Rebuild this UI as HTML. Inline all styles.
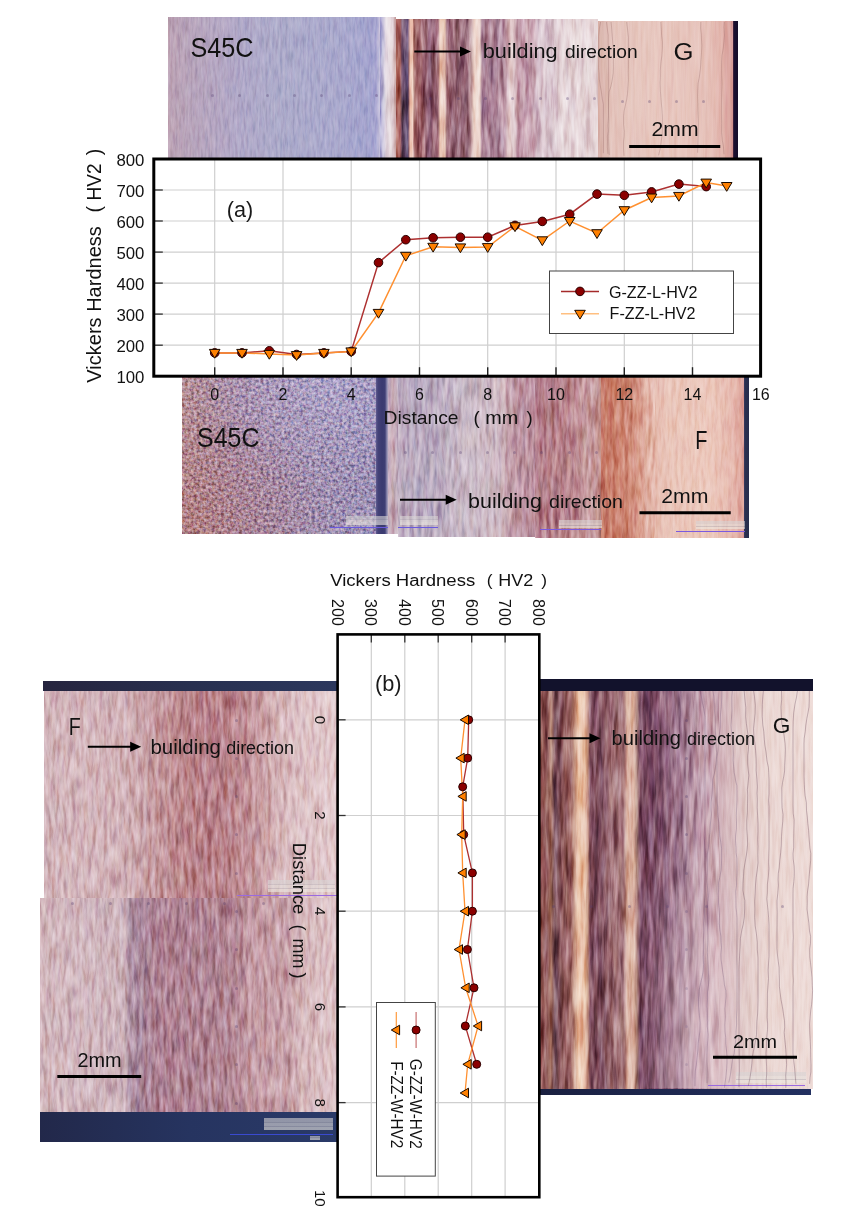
<!DOCTYPE html>
<html><head><meta charset="utf-8"><style>
html,body{margin:0;padding:0;background:#fff;width:848px;height:1222px;overflow:hidden;}
body{position:relative;font-family:"Liberation Sans", sans-serif;}
.m{position:absolute;}
svg{position:absolute;left:0;top:0;}
#main{will-change:transform;}
svg text{font-family:"Liberation Sans", sans-serif;}
</style></head><body>
<svg width="0" height="0" style="position:absolute;left:0;top:0"><defs><filter id="fA1" x="0" y="0" width="100%" height="100%" color-interpolation-filters="sRGB"><feTurbulence type="fractalNoise" baseFrequency="0.4 0.06" numOctaves="3" seed="3" result="t"/><feColorMatrix in="t" type="matrix" values="0.15 0.5 0 0 0.175  0 0.5 0 0 0.250  0 0.5 0.15 0 0.175  0 0 0 0 1" result="n"/><feBlend in="n" in2="SourceGraphic" mode="soft-light" result="b"/><feComposite in="b" in2="SourceGraphic" operator="in"/></filter><filter id="fA2" x="0" y="0" width="100%" height="100%" color-interpolation-filters="sRGB"><feTurbulence type="fractalNoise" baseFrequency="0.2 0.03" numOctaves="3" seed="7" result="t"/><feColorMatrix in="t" type="matrix" values="0.2 1.6 0 0 -0.400  0 1.6 0 0 -0.300  0 1.6 0.2 0 -0.400  0 0 0 0 1" result="n"/><feBlend in="n" in2="SourceGraphic" mode="soft-light" result="b"/><feComposite in="b" in2="SourceGraphic" operator="in"/></filter><filter id="fA3" x="0" y="0" width="100%" height="100%" color-interpolation-filters="sRGB"><feTurbulence type="fractalNoise" baseFrequency="0.3 0.02" numOctaves="3" seed="11" result="t"/><feColorMatrix in="t" type="matrix" values="0.1 0.4 0 0 0.250  0 0.4 0 0 0.300  0 0.4 0.1 0 0.250  0 0 0 0 1" result="n"/><feBlend in="n" in2="SourceGraphic" mode="soft-light" result="b"/><feComposite in="b" in2="SourceGraphic" operator="in"/></filter><filter id="fB1" x="0" y="0" width="100%" height="100%" color-interpolation-filters="sRGB"><feTurbulence type="fractalNoise" baseFrequency="0.33" numOctaves="3" seed="5" result="t"/><feColorMatrix in="t" type="matrix" values="0.7 1.6 0 0 -0.650  0 1.6 0 0 -0.300  0 1.6 0.7 0 -0.650  0 0 0 0 1" result="n"/><feBlend in="n" in2="SourceGraphic" mode="soft-light" result="b"/><feComposite in="b" in2="SourceGraphic" operator="in"/></filter><filter id="fB2" x="0" y="0" width="100%" height="100%" color-interpolation-filters="sRGB"><feTurbulence type="fractalNoise" baseFrequency="0.25 0.04" numOctaves="3" seed="9" result="t"/><feColorMatrix in="t" type="matrix" values="0.3 1.2 0 0 -0.250  0 1.2 0 0 -0.100  0 1.2 0.3 0 -0.250  0 0 0 0 1" result="n"/><feBlend in="n" in2="SourceGraphic" mode="soft-light" result="b"/><feComposite in="b" in2="SourceGraphic" operator="in"/></filter><filter id="fB4" x="0" y="0" width="100%" height="100%" color-interpolation-filters="sRGB"><feTurbulence type="fractalNoise" baseFrequency="0.25 0.04" numOctaves="3" seed="13" result="t"/><feColorMatrix in="t" type="matrix" values="0.2 1.1 0 0 -0.150  0 1.1 0 0 -0.050  0 1.1 0.2 0 -0.150  0 0 0 0 1" result="n"/><feBlend in="n" in2="SourceGraphic" mode="soft-light" result="b"/><feComposite in="b" in2="SourceGraphic" operator="in"/></filter><filter id="fB5" x="0" y="0" width="100%" height="100%" color-interpolation-filters="sRGB"><feTurbulence type="fractalNoise" baseFrequency="0.3 0.05" numOctaves="3" seed="29" result="t"/><feColorMatrix in="t" type="matrix" values="0.15 0.6 0 0 0.125  0 0.6 0 0 0.200  0 0.6 0.15 0 0.125  0 0 0 0 1" result="n"/><feBlend in="n" in2="SourceGraphic" mode="soft-light" result="b"/><feComposite in="b" in2="SourceGraphic" operator="in"/></filter><filter id="fL" x="0" y="0" width="100%" height="100%" color-interpolation-filters="sRGB"><feTurbulence type="fractalNoise" baseFrequency="0.25 0.045" numOctaves="3" seed="17" result="t"/><feColorMatrix in="t" type="matrix" values="0.3 1.2 0 0 -0.250  0 1.2 0 0 -0.100  0 1.2 0.3 0 -0.250  0 0 0 0 1" result="n"/><feBlend in="n" in2="SourceGraphic" mode="soft-light" result="b"/><feComposite in="b" in2="SourceGraphic" operator="in"/></filter><filter id="fR" x="0" y="0" width="100%" height="100%" color-interpolation-filters="sRGB"><feTurbulence type="fractalNoise" baseFrequency="0.2 0.025" numOctaves="3" seed="19" result="t"/><feColorMatrix in="t" type="matrix" values="0.2 1.5 0 0 -0.350  0 1.5 0 0 -0.250  0 1.5 0.2 0 -0.350  0 0 0 0 1" result="n"/><feBlend in="n" in2="SourceGraphic" mode="soft-light" result="b"/><feComposite in="b" in2="SourceGraphic" operator="in"/></filter><filter id="fR2" x="0" y="0" width="100%" height="100%" color-interpolation-filters="sRGB"><feTurbulence type="fractalNoise" baseFrequency="0.3 0.03" numOctaves="3" seed="23" result="t"/><feColorMatrix in="t" type="matrix" values="0.1 0.6 0 0 0.150  0 0.6 0 0 0.200  0 0.6 0.1 0 0.150  0 0 0 0 1" result="n"/><feBlend in="n" in2="SourceGraphic" mode="soft-light" result="b"/><feComposite in="b" in2="SourceGraphic" operator="in"/></filter></defs></svg>
<div class="m" style="left:168px;top:17px;width:228px;height:141px;background:linear-gradient(90deg,#bca2b4 0px,#b8a4ba 18px,#b4a6c2 50px,#b0a8c8 72px,#adabca 110px,#aaa9cd 170px,#a4a4ce 200px,#a6a4d0 208px,#cec8de 212px,#e4dce4 216px,#dcd0dc 220px,#d0b8c0 223px,#c8a8b0 226px,#c09090 228px);filter:url(#fA1);"></div>
<div class="m" style="left:380px;top:17px;width:16px;height:141px;background:linear-gradient(90deg,#a6a4d0 0px,#c8c4dc 3px,#e6dce4 6px,#e8dce0 10px,#dcc8cc 13px,#c8a4a4 16px);filter:url(#fA2);"></div>
<div class="m" style="left:396px;top:19px;width:202px;height:139px;background:linear-gradient(90deg,#b06c60 0px,#a45c56 4px,#70506c 6px,#604c70 12px,#a06868 13px,#ecc4b4 14px,#eec8b8 16.5px,#a46a68 18px,#9c6068 26px,#8c5e76 34px,#9a6470 42px,#eccab8 44px,#e6c4b6 49px,#966270 51px,#926272 62px,#986a7a 72px,#eed6cc 78px,#e8d0c8 84px,#a47a90 86px,#ac8498 100px,#bc96a6 109px,#e4cccc 114px,#dcc4c8 118px,#c49cac 122px,#c8a4b2 137px,#d6c0ca 142px,#dccad2 158px,#e4d4d8 164px,#e6d6d8 202px);filter:url(#fA2);"></div>
<div class="m" style="left:598px;top:21px;width:135px;height:137px;background:linear-gradient(90deg,#d8b0a8 0px,#dcb8b0 4px,#e4c4bc 14px,#e8c8c0 60px,#e6c2ba 110px,#e2b4ac 124px,#d69c98 135px);filter:url(#fA3);"></div>
<div class="m" style="left:733px;top:21px;width:5px;height:137px;background:linear-gradient(90deg,#4a2840 0px,#1a1030 1.5px,#140c28 5px);"></div>
<div class="m" style="left:182px;top:377px;width:195px;height:156.5px;background:radial-gradient(ellipse 75% 85% at 0% 100%, rgba(178,118,118,0.6), rgba(178,118,118,0) 100%),radial-gradient(ellipse 70% 70% at 75% 0%, rgba(184,178,216,0.6), rgba(184,178,216,0) 100%),linear-gradient(90deg,#b89098 0px,#b08c9a 20px,#a88ca8 60px,#a490b0 120px,#9e92b8 195px);filter:url(#fB1);"></div>
<div class="m" style="left:376px;top:377px;width:12px;height:157px;background:linear-gradient(90deg,#605c90 0px,#444278 2px,#3a3a70 6px,#3e3e74 9px,#7a76a0 10.5px,#b0a8c0 12px);"></div>
<div class="m" style="left:388px;top:377px;width:10px;height:156.5px;background:linear-gradient(90deg,#c4acc0 0px,#ccb0b8 5px,#c0aec0 10px);filter:url(#fB2);"></div>
<div class="m" style="left:398px;top:377px;width:137px;height:159.5px;background:linear-gradient(90deg,#c0aec0 0px,#b8aac0 20px,#bcacc0 42px,#c6b6c4 60px,#ccbcc8 72px,#ceb8c2 102px,#c8a8b2 108px,#c09aa6 114px,#bc90a0 137px);filter:url(#fB2);"></div>
<div class="m" style="left:535px;top:377px;width:66px;height:161px;background:linear-gradient(90deg,#b88490 0px,#b47e88 20px,#bc8890 40px,#c4989c 50px,#c69a9c 62px,#b88078 66px);filter:url(#fB2);"></div>
<div class="m" style="left:601px;top:377px;width:54px;height:161px;background:linear-gradient(90deg,#c47664 0px,#cc826e 15px,#d08c7a 30px,#d89c8c 38px,#e0b0a2 46px,#e6bcb0 54px);filter:url(#fB4);"></div>
<div class="m" style="left:655px;top:377px;width:89px;height:161px;background:linear-gradient(90deg,#e6bcb0 0px,#eac6ba 15px,#ecc8bc 55px,#e6b8ae 78px,#dca098 89px);filter:url(#fB5);"></div>
<div class="m" style="left:744px;top:377px;width:5px;height:161px;background:linear-gradient(90deg,#3a3a60 0px,#2a3050 1.5px,#262c4c 5px);"></div>
<div class="m" style="left:44px;top:690px;width:294px;height:208px;background:linear-gradient(90deg,#d2b4ba 0px,#d4b6bc 40px,#d2b2b8 80px,#caa4aa 100px,#c4969c 118px,#bc868c 140px,#b8808a 165px,#ba848c 185px,#c08e96 200px,#c89ca2 215px,#d4b2b6 232px,#dcc0c4 250px,#e2cacd 294px);filter:url(#fL);"></div>
<div class="m" style="left:40px;top:898px;width:298px;height:214px;background:linear-gradient(90deg,#d2b6bc 0px,#d2b8c0 40px,#ceb4bc 84px,#ae90a4 90px,#aa889c 100px,#b08294 120px,#b08494 170px,#b48896 196px,#c49aa4 210px,#c8a2aa 250px,#d6b8bc 262px,#dec4c8 298px);filter:url(#fL);"></div>
<div class="m" style="left:43px;top:681px;width:295px;height:9.5px;background:linear-gradient(90deg,#26243e 0px,#283050 150px,#2c385e 295px);"></div>
<div class="m" style="left:40px;top:1112px;width:298px;height:30px;background:linear-gradient(90deg,#22284a 0px,#263460 150px,#2a3a68 298px);"></div>
<div class="m" style="left:539px;top:690px;width:180px;height:399px;background:linear-gradient(90deg,#9a5a58 0px,#8a5252 8px,#b08070 12px,#6c4250 16px,#905a5c 24px,#9c6462 32px,#d0a490 36px,#ecc6ac 39px,#e8c0a8 46px,#c49484 49px,#7a4858 51px,#7c4c5c 62px,#9c6c74 70px,#a47478 85px,#dab2a2 88px,#dcb4a4 95px,#b08880 98px,#7a4a62 101px,#7a4a64 113px,#885a74 125px,#9a7088 135px,#a07890 142px,#b08c9e 150px,#c09cac 160px,#caa8b2 175px,#d0b0b8 180px);filter:url(#fR);"></div>
<div class="m" style="left:719px;top:690px;width:94px;height:399px;background:linear-gradient(90deg,#d0b0b8 0px,#d8bcc0 10px,#e2ccca 25px,#ead6d2 45px,#eedcd8 94px);filter:url(#fR2);"></div>
<div class="m" style="left:539px;top:679px;width:274px;height:11.5px;background:#12122c;"></div>
<div class="m" style="left:539px;top:1088.5px;width:272px;height:6.5px;background:linear-gradient(90deg,#1a2040 0px,#1e2850 136px,#223060 272px);"></div>
<div class="m" style="left:211.0px;top:93.5px;width:3.0px;height:3.0px;border-radius:50%;background:rgba(80,60,110,0.32);"></div>
<div class="m" style="left:238.3px;top:93.5px;width:3.0px;height:3.0px;border-radius:50%;background:rgba(80,60,110,0.32);"></div>
<div class="m" style="left:265.6px;top:93.5px;width:3.0px;height:3.0px;border-radius:50%;background:rgba(80,60,110,0.32);"></div>
<div class="m" style="left:292.9px;top:93.5px;width:3.0px;height:3.0px;border-radius:50%;background:rgba(80,60,110,0.32);"></div>
<div class="m" style="left:320.2px;top:93.5px;width:3.0px;height:3.0px;border-radius:50%;background:rgba(80,60,110,0.32);"></div>
<div class="m" style="left:347.5px;top:93.5px;width:3.0px;height:3.0px;border-radius:50%;background:rgba(80,60,110,0.32);"></div>
<div class="m" style="left:374.8px;top:93.5px;width:3.0px;height:3.0px;border-radius:50%;background:rgba(80,60,110,0.32);"></div>
<div class="m" style="left:402.1px;top:96.5px;width:3.0px;height:3.0px;border-radius:50%;background:rgba(80,60,110,0.32);"></div>
<div class="m" style="left:429.4px;top:96.5px;width:3.0px;height:3.0px;border-radius:50%;background:rgba(80,60,110,0.32);"></div>
<div class="m" style="left:456.70000000000005px;top:96.5px;width:3.0px;height:3.0px;border-radius:50%;background:rgba(80,60,110,0.32);"></div>
<div class="m" style="left:484.0px;top:96.5px;width:3.0px;height:3.0px;border-radius:50%;background:rgba(80,60,110,0.32);"></div>
<div class="m" style="left:511.29999999999995px;top:96.5px;width:3.0px;height:3.0px;border-radius:50%;background:rgba(80,60,110,0.32);"></div>
<div class="m" style="left:538.6px;top:96.5px;width:3.0px;height:3.0px;border-radius:50%;background:rgba(80,60,110,0.32);"></div>
<div class="m" style="left:565.9000000000001px;top:96.5px;width:3.0px;height:3.0px;border-radius:50%;background:rgba(80,60,110,0.32);"></div>
<div class="m" style="left:593.2px;top:96.5px;width:3.0px;height:3.0px;border-radius:50%;background:rgba(80,60,110,0.32);"></div>
<div class="m" style="left:620.5px;top:100.0px;width:3.0px;height:3.0px;border-radius:50%;background:rgba(80,60,110,0.32);"></div>
<div class="m" style="left:647.8px;top:100.0px;width:3.0px;height:3.0px;border-radius:50%;background:rgba(80,60,110,0.32);"></div>
<div class="m" style="left:675.1px;top:100.0px;width:3.0px;height:3.0px;border-radius:50%;background:rgba(80,60,110,0.32);"></div>
<div class="m" style="left:702.4000000000001px;top:100.0px;width:3.0px;height:3.0px;border-radius:50%;background:rgba(80,60,110,0.32);"></div>
<div class="m" style="left:403.9px;top:450.5px;width:3.0px;height:3.0px;border-radius:50%;background:rgba(80,60,110,0.32);"></div>
<div class="m" style="left:431.2px;top:450.5px;width:3.0px;height:3.0px;border-radius:50%;background:rgba(80,60,110,0.32);"></div>
<div class="m" style="left:458.5px;top:450.5px;width:3.0px;height:3.0px;border-radius:50%;background:rgba(80,60,110,0.32);"></div>
<div class="m" style="left:485.79999999999995px;top:450.5px;width:3.0px;height:3.0px;border-radius:50%;background:rgba(80,60,110,0.32);"></div>
<div class="m" style="left:513.1px;top:450.5px;width:3.0px;height:3.0px;border-radius:50%;background:rgba(80,60,110,0.32);"></div>
<div class="m" style="left:540.4px;top:450.5px;width:3.0px;height:3.0px;border-radius:50%;background:rgba(80,60,110,0.32);"></div>
<div class="m" style="left:567.7px;top:450.5px;width:3.0px;height:3.0px;border-radius:50%;background:rgba(80,60,110,0.32);"></div>
<div class="m" style="left:595.0px;top:450.5px;width:3.0px;height:3.0px;border-radius:50%;background:rgba(80,60,110,0.32);"></div>
<div class="m" style="left:234.5px;top:718.5px;width:3.0px;height:3.0px;border-radius:50%;background:rgba(80,60,110,0.32);"></div>
<div class="m" style="left:234.5px;top:756.8px;width:3.0px;height:3.0px;border-radius:50%;background:rgba(80,60,110,0.32);"></div>
<div class="m" style="left:234.5px;top:795.1px;width:3.0px;height:3.0px;border-radius:50%;background:rgba(80,60,110,0.32);"></div>
<div class="m" style="left:234.5px;top:833.4px;width:3.0px;height:3.0px;border-radius:50%;background:rgba(80,60,110,0.32);"></div>
<div class="m" style="left:234.5px;top:871.7px;width:3.0px;height:3.0px;border-radius:50%;background:rgba(80,60,110,0.32);"></div>
<div class="m" style="left:234.5px;top:910.0px;width:3.0px;height:3.0px;border-radius:50%;background:rgba(80,60,110,0.32);"></div>
<div class="m" style="left:234.5px;top:948.3px;width:3.0px;height:3.0px;border-radius:50%;background:rgba(80,60,110,0.32);"></div>
<div class="m" style="left:234.5px;top:986.5999999999999px;width:3.0px;height:3.0px;border-radius:50%;background:rgba(80,60,110,0.32);"></div>
<div class="m" style="left:234.5px;top:1024.9px;width:3.0px;height:3.0px;border-radius:50%;background:rgba(80,60,110,0.32);"></div>
<div class="m" style="left:234.5px;top:1063.2px;width:3.0px;height:3.0px;border-radius:50%;background:rgba(80,60,110,0.32);"></div>
<div class="m" style="left:234.5px;top:1101.5px;width:3.0px;height:3.0px;border-radius:50%;background:rgba(80,60,110,0.32);"></div>
<div class="m" style="left:685.0px;top:718.5px;width:3.0px;height:3.0px;border-radius:50%;background:rgba(80,60,110,0.32);"></div>
<div class="m" style="left:685.0px;top:756.8px;width:3.0px;height:3.0px;border-radius:50%;background:rgba(80,60,110,0.32);"></div>
<div class="m" style="left:685.0px;top:795.1px;width:3.0px;height:3.0px;border-radius:50%;background:rgba(80,60,110,0.32);"></div>
<div class="m" style="left:685.0px;top:833.4px;width:3.0px;height:3.0px;border-radius:50%;background:rgba(80,60,110,0.32);"></div>
<div class="m" style="left:685.0px;top:871.7px;width:3.0px;height:3.0px;border-radius:50%;background:rgba(80,60,110,0.32);"></div>
<div class="m" style="left:685.0px;top:910.0px;width:3.0px;height:3.0px;border-radius:50%;background:rgba(80,60,110,0.32);"></div>
<div class="m" style="left:685.0px;top:948.3px;width:3.0px;height:3.0px;border-radius:50%;background:rgba(80,60,110,0.32);"></div>
<div class="m" style="left:685.0px;top:986.5999999999999px;width:3.0px;height:3.0px;border-radius:50%;background:rgba(80,60,110,0.32);"></div>
<div class="m" style="left:685.0px;top:1024.9px;width:3.0px;height:3.0px;border-radius:50%;background:rgba(80,60,110,0.32);"></div>
<div class="m" style="left:685.0px;top:1063.2px;width:3.0px;height:3.0px;border-radius:50%;background:rgba(80,60,110,0.32);"></div>
<div class="m" style="left:70.5px;top:902.0px;width:3.0px;height:3.0px;border-radius:50%;background:rgba(80,60,110,0.32);"></div>
<div class="m" style="left:108.72px;top:902.0px;width:3.0px;height:3.0px;border-radius:50%;background:rgba(80,60,110,0.32);"></div>
<div class="m" style="left:146.94px;top:902.0px;width:3.0px;height:3.0px;border-radius:50%;background:rgba(80,60,110,0.32);"></div>
<div class="m" style="left:185.16px;top:902.0px;width:3.0px;height:3.0px;border-radius:50%;background:rgba(80,60,110,0.32);"></div>
<div class="m" style="left:223.38px;top:902.0px;width:3.0px;height:3.0px;border-radius:50%;background:rgba(80,60,110,0.32);"></div>
<div class="m" style="left:261.6px;top:902.0px;width:3.0px;height:3.0px;border-radius:50%;background:rgba(80,60,110,0.32);"></div>
<div class="m" style="left:299.82px;top:902.0px;width:3.0px;height:3.0px;border-radius:50%;background:rgba(80,60,110,0.32);"></div>
<div class="m" style="left:338.03999999999996px;top:902.0px;width:3.0px;height:3.0px;border-radius:50%;background:rgba(80,60,110,0.32);"></div>
<div class="m" style="left:376.26px;top:902.0px;width:3.0px;height:3.0px;border-radius:50%;background:rgba(80,60,110,0.32);"></div>
<div class="m" style="left:551.5px;top:904.5px;width:3.0px;height:3.0px;border-radius:50%;background:rgba(80,60,110,0.32);"></div>
<div class="m" style="left:589.8px;top:904.5px;width:3.0px;height:3.0px;border-radius:50%;background:rgba(80,60,110,0.32);"></div>
<div class="m" style="left:628.1px;top:904.5px;width:3.0px;height:3.0px;border-radius:50%;background:rgba(80,60,110,0.32);"></div>
<div class="m" style="left:666.4px;top:904.5px;width:3.0px;height:3.0px;border-radius:50%;background:rgba(80,60,110,0.32);"></div>
<div class="m" style="left:704.7px;top:904.5px;width:3.0px;height:3.0px;border-radius:50%;background:rgba(80,60,110,0.32);"></div>
<div class="m" style="left:780.5px;top:904.5px;width:3.0px;height:3.0px;border-radius:50%;background:rgba(80,60,110,0.32);"></div>
<div class="m" style="left:640px;top:840px;width:110px;height:248px;background:linear-gradient(180deg,rgba(236,214,218,0) 0%,rgba(236,214,218,0.35) 60%,rgba(236,214,218,0.4) 100%);-webkit-mask-image:linear-gradient(90deg,transparent 0%,#000 40%,#000 75%,transparent 100%);mask-image:linear-gradient(90deg,transparent 0%,#000 40%,#000 75%,transparent 100%);"></div>
<div class="m" style="left:345.5px;top:515.5px;width:42.5px;height:9px;background:linear-gradient(180deg,#d8d4d4 0,#d8d4d4 33%,#b8b4b8 33%,#c8c4c8 40%,#e4e0dc 40%,#e4e0dc 66%,#b8b4b8 66%,#c8c4c8 72%,#ece8e0 72%);opacity:0.6;"></div>
<div class="m" style="left:330px;top:526.5px;width:58px;height:1.2px;background:#6a5adc;"></div>
<div class="m" style="left:400px;top:515.5px;width:38px;height:9px;background:linear-gradient(180deg,#d8d4d4 0,#d8d4d4 33%,#b8b4b8 33%,#c8c4c8 40%,#e4e0dc 40%,#e4e0dc 66%,#b8b4b8 66%,#c8c4c8 72%,#ece8e0 72%);opacity:0.6;"></div>
<div class="m" style="left:398px;top:526.5px;width:40px;height:1.2px;background:#6a5adc;"></div>
<div class="m" style="left:559px;top:520px;width:43px;height:7.5px;background:linear-gradient(180deg,#d8d4d4 0,#d8d4d4 33%,#b8b4b8 33%,#c8c4c8 40%,#e4e0dc 40%,#e4e0dc 66%,#b8b4b8 66%,#c8c4c8 72%,#ece8e0 72%);opacity:0.6;"></div>
<div class="m" style="left:540px;top:529px;width:61px;height:1.2px;background:#7a5ae0;"></div>
<div class="m" style="left:696px;top:521px;width:49px;height:8px;background:linear-gradient(180deg,#d8d4d4 0,#d8d4d4 33%,#b8b4b8 33%,#c8c4c8 40%,#e4e0dc 40%,#e4e0dc 66%,#b8b4b8 66%,#c8c4c8 72%,#ece8e0 72%);opacity:0.6;"></div>
<div class="m" style="left:676px;top:530.5px;width:69px;height:1.2px;background:#7a5ae0;"></div>
<div class="m" style="left:267.5px;top:880px;width:67px;height:12px;background:linear-gradient(180deg,#d8d4d4 0,#d8d4d4 33%,#b8b4b8 33%,#c8c4c8 40%,#e4e0dc 40%,#e4e0dc 66%,#b8b4b8 66%,#c8c4c8 72%,#ece8e0 72%);opacity:0.6;"></div>
<div class="m" style="left:237px;top:894.5px;width:101px;height:1.2px;background:#9a6ae0;"></div>
<div class="m" style="left:264px;top:1118px;width:68.5px;height:11.5px;background:linear-gradient(180deg,#d8d4d4 0,#d8d4d4 33%,#b8b4b8 33%,#c8c4c8 40%,#e4e0dc 40%,#e4e0dc 66%,#b8b4b8 66%,#c8c4c8 72%,#ece8e0 72%);opacity:0.6;"></div>
<div class="m" style="left:230px;top:1133.5px;width:103px;height:1.2px;background:#3a4ad0;"></div>
<div class="m" style="left:310px;top:1135.5px;width:10px;height:4.5px;background:linear-gradient(180deg,#d8d4d4 0,#d8d4d4 33%,#b8b4b8 33%,#c8c4c8 40%,#e4e0dc 40%,#e4e0dc 66%,#b8b4b8 66%,#c8c4c8 72%,#ece8e0 72%);opacity:0.6;"></div>
<div class="m" style="left:735.5px;top:1071.5px;width:70px;height:11px;background:linear-gradient(180deg,#d8d4d4 0,#d8d4d4 33%,#b8b4b8 33%,#c8c4c8 40%,#e4e0dc 40%,#e4e0dc 66%,#b8b4b8 66%,#c8c4c8 72%,#ece8e0 72%);opacity:0.6;"></div>
<div class="m" style="left:708px;top:1084.6px;width:97px;height:1.2px;background:#9a6ae0;"></div>
<svg id="main" width="848" height="1222" viewBox="0 0 848 1222">
<polyline points="744.2,691.0 744.9,699.0 745.8,707.7 745.6,716.4 746.3,723.3 747.4,730.9 748.2,736.3 748.8,742.3 748.4,749.6 747.7,755.5 747.7,764.2 748.2,769.8 748.8,775.3 748.3,780.9 747.4,789.3 747.7,795.2 747.5,803.7 747.4,812.5 746.8,820.2 746.8,829.0 747.4,837.9 747.6,844.1 747.1,849.7 746.4,855.0 745.1,862.4 743.8,870.1 743.5,876.4 743.0,883.3 742.9,890.2 743.8,895.4 744.8,900.5 744.7,908.9 744.3,917.1 743.2,924.4 741.9,929.6 740.4,938.4 740.1,946.4 739.6,955.2 739.3,961.6 739.0,969.7 739.0,977.7 739.0,986.1 739.0,994.9 739.0,1001.3 739.0,1009.9 739.0,1018.6 739.0,1024.9 739.0,1030.6 739.0,1036.2 739.0,1045.2 739.2,1050.4 739.2,1057.5 739.3,1063.5 739.3,1071.8 739.0,1078.5 739.0,1087.1" fill="none" stroke="rgba(90,55,75,0.4)" stroke-width="0.8"/>
<polyline points="753.6,691.0 754.5,696.5 755.3,705.3 755.1,713.5 754.4,720.2 753.5,728.6 753.8,735.4 754.9,743.8 755.6,750.6 756.1,758.5 756.2,764.7 756.1,770.3 756.9,779.2 757.4,786.8 757.0,793.1 757.3,799.2 757.2,807.7 757.6,815.8 758.0,823.6 758.0,831.6 757.7,839.4 758.0,846.4 757.8,854.2 758.0,862.9 757.2,870.3 756.2,877.4 755.5,885.1 755.2,893.4 754.7,901.6 754.9,909.2 754.7,917.5 755.2,925.9 756.4,933.6 757.3,942.4 757.3,949.5 758.0,957.9 758.0,964.8 758.0,972.7 758.0,978.4 758.0,985.7 758.0,992.4 758.0,1000.5 757.8,1008.4 757.6,1014.0 756.9,1021.6 756.7,1029.3 756.5,1034.5 755.6,1040.4 754.6,1045.9 753.3,1051.7 752.4,1056.8 751.9,1063.3 751.1,1070.7 749.7,1079.3 748.3,1085.9" fill="none" stroke="rgba(90,55,75,0.4)" stroke-width="0.8"/>
<polyline points="763.3,691.0 762.6,699.3 762.3,704.5 762.2,709.8 762.2,716.2 762.8,725.0 763.8,731.7 764.3,739.3 764.8,744.9 766.0,752.1 767.0,761.0 768.4,767.4 768.7,772.4 769.0,779.7 769.0,785.2 769.0,793.8 768.6,800.5 769.0,806.7 769.0,813.2 769.0,821.8 769.0,827.9 769.0,834.9 769.0,841.1 769.0,848.1 768.8,855.0 768.6,862.5 768.9,868.7 768.3,877.0 767.4,884.1 767.3,892.9 766.8,898.8 767.4,904.5 768.0,910.6 768.6,917.5 769.0,924.9 769.0,930.4 769.0,936.6 769.0,943.0 769.0,950.1 769.0,956.5 768.5,963.9 768.1,969.9 768.5,978.6 767.9,985.8 767.4,993.9 767.4,1001.2 767.3,1008.7 767.1,1017.3 767.6,1023.9 767.5,1029.7 766.7,1038.0 766.5,1046.4 766.0,1053.1 766.3,1061.2 766.6,1066.8 766.7,1074.0 766.2,1080.3 766.4,1087.7" fill="none" stroke="rgba(90,55,75,0.4)" stroke-width="0.8"/>
<polyline points="781.5,691.0 781.7,699.3 781.0,706.9 781.3,714.8 781.9,723.8 783.0,729.0 784.0,734.9 785.1,743.7 785.4,749.2 785.1,757.9 784.7,765.4 784.6,771.0 783.8,776.2 782.5,782.7 781.8,787.9 781.9,795.9 781.9,801.4 782.1,807.7 783.0,814.6 782.8,821.1 782.0,828.9 781.5,836.5 781.3,845.1 780.7,852.6 779.8,859.8 779.2,867.8 778.3,873.3 778.1,879.8 778.4,885.5 777.8,893.1 777.0,900.8 777.0,906.3 777.2,912.3 777.1,919.2 777.0,927.4 777.0,935.3 777.0,940.9 777.0,948.6 777.4,954.1 778.3,961.7 779.1,967.3 779.2,973.7 779.4,980.0 779.4,986.4 780.0,992.0 781.0,999.6 782.3,1006.3 783.4,1013.4 784.5,1020.7 784.7,1027.2 784.2,1032.4 784.6,1037.5 785.3,1044.5 785.8,1049.5 786.3,1058.0 786.6,1064.7 786.2,1070.1 785.7,1075.8 786.0,1082.3 785.8,1087.9" fill="none" stroke="rgba(90,55,75,0.4)" stroke-width="0.8"/>
<polyline points="797.4,691.0 796.5,697.1 795.0,704.1 793.7,712.8 793.2,721.5 793.0,729.2 793.0,738.0 793.0,745.7 793.0,753.4 793.0,759.0 793.0,764.1 793.0,769.4 793.0,778.3 793.0,784.6 793.0,790.7 793.0,798.6 793.0,804.5 793.2,813.3 794.1,820.0 794.0,825.1 793.8,833.2 793.7,838.4 793.7,847.3 793.0,853.7 793.2,859.0 794.1,866.0 794.3,871.2 794.2,876.4 793.8,881.6 793.1,888.3 793.0,893.5 793.0,902.3 793.0,909.4 793.0,916.5 793.0,922.8 793.0,929.9 793.3,937.3 793.0,943.2 793.0,950.3 793.0,957.6 793.0,965.1 793.0,973.8 793.3,980.6 793.0,986.5 793.0,992.7 793.0,1000.8 793.0,1007.1 793.0,1012.4 793.0,1017.7 793.0,1025.0 793.0,1030.3 793.0,1035.5 793.0,1041.6 793.0,1047.0 793.0,1053.3 793.7,1060.5 794.6,1068.1 795.2,1075.4 795.9,1083.7" fill="none" stroke="rgba(90,55,75,0.4)" stroke-width="0.8"/>
<polyline points="809.4,691.0 809.3,698.8 809.0,707.1 808.0,712.6 806.9,718.3 805.7,726.0 805.3,731.2 804.2,738.4 804.0,743.6 804.0,750.1 804.0,758.9 804.0,764.8 804.0,771.2 804.0,776.3 804.3,784.6 804.6,790.0 805.1,795.7 806.3,802.4 806.5,810.6 807.3,816.9 807.8,823.7 808.6,830.5 809.2,839.3 809.9,848.1 810.8,853.5 810.7,860.2 809.8,869.1 809.1,876.4 808.5,885.0 807.6,890.8 807.1,896.6 807.2,903.1 807.0,909.0 807.8,915.0 808.9,923.4 809.5,930.9 810.6,936.4 810.5,943.4 809.7,949.1 809.8,956.9 810.5,962.7 811.2,969.0 812.0,977.5 812.3,985.7 812.6,990.7 812.2,998.1 811.6,1004.6 810.8,1009.7 810.2,1016.3 809.6,1024.1 809.8,1033.0 810.3,1041.7 810.6,1049.4 810.7,1057.6 811.0,1065.0 810.9,1072.0 810.0,1077.4 809.6,1083.8" fill="none" stroke="rgba(90,55,75,0.4)" stroke-width="0.8"/>
<polyline points="700.4,691.0 701.4,697.2 702.5,703.3 703.8,708.6 705.0,716.3 705.0,724.9 705.0,733.2 705.0,740.7 705.0,747.7 705.0,753.7 705.0,760.9 705.0,765.9 705.0,771.6 705.0,780.2 705.0,787.7 705.0,793.1 705.0,800.3 705.0,806.8 705.0,812.7 705.0,818.7 704.8,827.3 705.0,834.8 704.5,840.7 704.7,848.0 705.0,856.5 705.0,863.2 705.0,870.3 705.0,876.5 705.0,883.9 704.9,889.7 704.9,895.1 704.3,902.6 704.1,908.3 704.3,915.9 703.6,923.8 703.8,930.8 703.5,939.6 703.6,948.0 703.2,956.7 703.6,964.5 703.1,971.4 702.1,977.2 700.8,982.5 699.2,990.0 698.5,998.0 698.5,1006.3 699.3,1014.1 700.1,1023.0 699.9,1031.8 699.0,1037.2 698.2,1043.1 697.9,1049.9 697.0,1057.9 696.4,1064.5 695.3,1071.0 695.0,1078.4 695.0,1086.1" fill="none" stroke="rgba(80,50,90,0.3)" stroke-width="0.8"/>
<polyline points="712.8,691.0 713.8,696.3 714.2,704.2 714.4,709.6 715.0,716.1 715.2,724.7 715.3,730.9 715.9,738.7 716.0,746.0 716.6,752.3 716.3,759.4 715.6,766.1 714.3,773.8 712.7,779.8 712.4,786.8 712.1,793.9 711.0,802.7 710.9,809.1 711.3,814.1 710.7,820.5 710.2,826.5 709.9,833.1 709.1,838.3 708.5,847.2 707.3,854.1 707.3,860.2 707.3,867.9 707.2,873.1 707.0,881.3 707.6,888.6 708.2,896.2 707.8,901.4 707.3,909.4 707.6,917.9 707.6,926.6 708.0,935.6 707.7,944.2 707.3,952.3 707.9,961.2 708.2,967.0 708.4,973.1 708.8,979.3 708.5,984.8 707.5,991.6 707.6,998.1 707.0,1006.7 707.2,1011.7 707.6,1020.6 707.3,1026.1 708.0,1034.8 707.8,1039.9 707.3,1046.6 707.0,1054.7 707.0,1062.8 707.1,1069.8 707.0,1077.6 707.0,1083.1" fill="none" stroke="rgba(80,50,90,0.3)" stroke-width="0.8"/>
<polyline points="721.8,691.0 721.7,697.9 721.3,706.8 720.5,714.0 720.4,721.2 720.3,726.8 719.3,734.6 718.5,742.7 718.1,749.7 717.0,757.9 717.0,764.9 717.0,771.4 717.0,776.5 717.0,783.3 717.0,792.0 717.0,799.1 717.7,807.9 717.9,816.8 718.8,822.5 719.3,827.8 719.7,835.7 720.8,842.3 721.6,848.5 721.6,856.8 721.5,863.2 721.0,870.5 719.8,877.3 718.6,882.6 718.7,888.2 718.3,894.3 718.5,902.4 719.2,908.4 719.5,916.0 719.3,923.5 719.8,929.5 720.9,936.3 721.0,942.0 721.5,947.2 720.9,954.4 721.1,959.6 722.0,966.6 722.7,971.7 723.6,977.2 724.4,984.7 725.8,990.5 726.0,996.0 725.4,1003.7 724.9,1009.0 725.3,1016.6 724.8,1024.5 725.0,1032.0 725.7,1037.5 725.7,1043.6 726.3,1048.6 727.0,1055.6 727.0,1062.5 726.7,1068.4 725.9,1077.1 725.1,1082.5 724.4,1087.8" fill="none" stroke="rgba(80,50,90,0.3)" stroke-width="0.8"/>
<polyline points="732.3,691.0 731.8,696.7 731.8,703.7 732.0,710.5 731.4,719.1 731.0,725.2 731.5,732.3 732.1,739.5 733.0,746.2 733.3,754.6 733.1,760.0 733.6,766.4 734.2,772.5 735.5,780.0 736.8,785.5 737.0,791.9 737.0,799.4 736.7,806.7 736.3,815.6 736.5,823.1 736.4,829.2 735.6,835.5 735.5,840.8 736.0,847.4 736.1,852.7 736.9,858.4 737.0,866.5 737.0,873.6 736.6,880.2 736.5,885.3 735.7,891.5 735.9,898.5 736.0,907.3 736.6,912.7 737.0,918.2 737.0,923.5 737.0,930.7 737.0,936.8 737.0,945.7 737.0,951.5 736.9,960.2 737.0,967.7 737.0,974.0 737.0,981.1 737.0,986.4 737.0,993.2 737.0,1001.9 736.9,1008.9 736.5,1016.9 736.6,1023.8 736.0,1031.2 736.0,1037.0 735.2,1044.9 734.1,1053.9 732.5,1059.6 731.6,1066.3 730.4,1074.8 728.8,1082.6" fill="none" stroke="rgba(80,50,90,0.3)" stroke-width="0.8"/>
<polyline points="600.6,22.0 599.4,28.4 598.6,36.3 598.6,44.4 598.6,51.7 598.8,58.7 598.6,67.4 599.1,73.7 599.3,79.2 600.3,85.9 601.3,91.4 602.4,99.4 603.4,104.4 603.4,110.7 603.4,118.3 603.4,126.7 603.4,133.0 603.4,140.1 603.4,147.5 603.4,153.2" fill="none" stroke="rgba(120,70,70,0.3)" stroke-width="0.8"/>
<polyline points="606.5,22.0 607.5,30.1 608.2,35.3 608.1,42.2 608.4,48.0 608.4,56.4 608.4,64.7 608.4,71.3 608.3,77.2 608.4,82.2 608.4,89.5 608.4,96.5 608.4,102.8 608.4,109.3 608.4,117.3 607.8,125.0 608.1,131.1 607.4,136.7 607.5,141.7 607.4,147.2 607.9,153.9" fill="none" stroke="rgba(120,70,70,0.3)" stroke-width="0.8"/>
<polyline points="611.0,22.0 611.6,27.1 612.2,35.2 612.8,43.5 613.4,51.4 613.3,58.8 613.4,67.4 613.2,73.2 612.3,79.5 611.0,86.0 609.1,91.9 608.6,98.6 608.6,106.5 608.6,112.2 608.8,120.8 608.8,126.6 608.7,133.4 608.6,138.6 608.8,146.6 609.3,155.1" fill="none" stroke="rgba(120,70,70,0.3)" stroke-width="0.8"/>
<polyline points="626.7,22.0 627.7,30.7 628.4,37.3 628.4,45.0 628.4,52.8 628.4,58.6 628.4,64.6 628.2,72.7 628.4,79.8 628.0,86.3 627.5,93.7 626.7,99.3 625.6,104.3 624.1,111.0 623.6,116.0 623.6,124.8 624.3,131.1 624.2,136.5 623.6,141.5 623.6,148.9 624.0,155.8" fill="none" stroke="rgba(120,70,70,0.3)" stroke-width="0.8"/>
<polyline points="660.8,22.0 661.3,29.4 661.6,35.1 662.4,41.9 662.4,47.8 661.8,56.1 660.8,63.2 660.3,70.9 660.4,76.2 660.1,82.9 660.4,91.3 660.9,97.5 661.3,103.0 661.9,108.4 662.4,117.0 662.4,122.2 662.4,129.1 662.2,134.7 661.2,141.5 660.1,149.2 658.6,155.3" fill="none" stroke="rgba(120,70,70,0.3)" stroke-width="0.8"/>
<polyline points="700.8,22.0 700.6,28.2 701.3,34.6 701.5,39.9 701.9,45.7 701.5,52.6 700.9,61.0 700.4,68.8 699.3,77.3 698.1,83.2 697.8,89.2 697.6,96.2 697.9,103.3 698.0,110.6 698.3,118.2 698.4,124.8 698.3,130.3 698.0,138.8 697.9,145.3 697.6,152.7" fill="none" stroke="rgba(120,70,70,0.3)" stroke-width="0.8"/>
<polyline points="724.4,22.0 724.0,27.2 724.5,35.2 724.0,40.5 723.3,48.0 722.0,55.6 721.6,62.4 721.6,68.7 721.7,75.8 722.0,84.2 721.7,92.5 721.6,99.4 721.6,106.9 721.6,115.5 721.7,123.6 721.6,132.4 722.4,140.8 723.4,146.3 724.0,154.2" fill="none" stroke="rgba(120,70,70,0.3)" stroke-width="0.8"/>
<rect x="153.8" y="159.0" width="606.8" height="217.2" fill="#fff"/>
<line x1="214.7" y1="159.0" x2="214.7" y2="376.2" stroke="#cfcfcf" stroke-width="1.2"/>
<line x1="283.0" y1="159.0" x2="283.0" y2="376.2" stroke="#cfcfcf" stroke-width="1.2"/>
<line x1="351.2" y1="159.0" x2="351.2" y2="376.2" stroke="#cfcfcf" stroke-width="1.2"/>
<line x1="419.5" y1="159.0" x2="419.5" y2="376.2" stroke="#cfcfcf" stroke-width="1.2"/>
<line x1="487.7" y1="159.0" x2="487.7" y2="376.2" stroke="#cfcfcf" stroke-width="1.2"/>
<line x1="556.0" y1="159.0" x2="556.0" y2="376.2" stroke="#cfcfcf" stroke-width="1.2"/>
<line x1="624.3" y1="159.0" x2="624.3" y2="376.2" stroke="#cfcfcf" stroke-width="1.2"/>
<line x1="692.5" y1="159.0" x2="692.5" y2="376.2" stroke="#cfcfcf" stroke-width="1.2"/>
<line x1="153.8" y1="345.2" x2="760.6" y2="345.2" stroke="#cfcfcf" stroke-width="1.2"/>
<line x1="153.8" y1="314.1" x2="760.6" y2="314.1" stroke="#cfcfcf" stroke-width="1.2"/>
<line x1="153.8" y1="283.1" x2="760.6" y2="283.1" stroke="#cfcfcf" stroke-width="1.2"/>
<line x1="153.8" y1="252.1" x2="760.6" y2="252.1" stroke="#cfcfcf" stroke-width="1.2"/>
<line x1="153.8" y1="221.0" x2="760.6" y2="221.0" stroke="#cfcfcf" stroke-width="1.2"/>
<line x1="153.8" y1="190.0" x2="760.6" y2="190.0" stroke="#cfcfcf" stroke-width="1.2"/>
<line x1="153.8" y1="345.2" x2="162.8" y2="345.2" stroke="#333" stroke-width="1.3"/>
<line x1="153.8" y1="314.1" x2="162.8" y2="314.1" stroke="#333" stroke-width="1.3"/>
<line x1="153.8" y1="283.1" x2="162.8" y2="283.1" stroke="#333" stroke-width="1.3"/>
<line x1="153.8" y1="252.1" x2="162.8" y2="252.1" stroke="#333" stroke-width="1.3"/>
<line x1="153.8" y1="221.0" x2="162.8" y2="221.0" stroke="#333" stroke-width="1.3"/>
<line x1="153.8" y1="190.0" x2="162.8" y2="190.0" stroke="#333" stroke-width="1.3"/>
<line x1="214.7" y1="367.2" x2="214.7" y2="376.2" stroke="#222" stroke-width="1.4"/>
<line x1="283.0" y1="367.2" x2="283.0" y2="376.2" stroke="#222" stroke-width="1.4"/>
<line x1="351.2" y1="367.2" x2="351.2" y2="376.2" stroke="#222" stroke-width="1.4"/>
<line x1="419.5" y1="367.2" x2="419.5" y2="376.2" stroke="#222" stroke-width="1.4"/>
<line x1="487.7" y1="367.2" x2="487.7" y2="376.2" stroke="#222" stroke-width="1.4"/>
<line x1="556.0" y1="367.2" x2="556.0" y2="376.2" stroke="#222" stroke-width="1.4"/>
<line x1="624.3" y1="367.2" x2="624.3" y2="376.2" stroke="#222" stroke-width="1.4"/>
<line x1="692.5" y1="367.2" x2="692.5" y2="376.2" stroke="#222" stroke-width="1.4"/>
<polyline points="214.7,352.9 242.0,352.9 269.3,350.8 296.6,354.5 323.9,352.9 351.2,351.4 378.5,262.6 405.8,239.7 433.1,237.8 460.4,237.2 487.7,237.2 515.0,225.4 542.3,221.4 569.7,214.2 597.0,194.1 624.3,195.3 651.6,191.9 678.9,184.1 706.2,186.6" fill="none" stroke="#ad3030" stroke-width="1.5"/>
<polyline points="214.7,352.9 242.0,352.9 269.3,353.9 296.6,355.1 323.9,352.9 351.2,351.4 378.5,312.9 405.8,255.8 433.1,246.8 460.4,247.4 487.7,247.1 515.0,226.3 542.3,240.3 569.7,221.0 597.0,233.2 624.3,210.2 651.6,197.5 678.9,195.9 706.2,182.6 726.7,186.0" fill="none" stroke="#ff9030" stroke-width="1.5"/>
<circle cx="214.7" cy="352.9" r="4.3" fill="#8b0000" stroke="#2a0000" stroke-width="1"/>
<circle cx="242.0" cy="352.9" r="4.3" fill="#8b0000" stroke="#2a0000" stroke-width="1"/>
<circle cx="269.3" cy="350.8" r="4.3" fill="#8b0000" stroke="#2a0000" stroke-width="1"/>
<circle cx="296.6" cy="354.5" r="4.3" fill="#8b0000" stroke="#2a0000" stroke-width="1"/>
<circle cx="323.9" cy="352.9" r="4.3" fill="#8b0000" stroke="#2a0000" stroke-width="1"/>
<circle cx="351.2" cy="351.4" r="4.3" fill="#8b0000" stroke="#2a0000" stroke-width="1"/>
<circle cx="378.5" cy="262.6" r="4.3" fill="#8b0000" stroke="#2a0000" stroke-width="1"/>
<circle cx="405.8" cy="239.7" r="4.3" fill="#8b0000" stroke="#2a0000" stroke-width="1"/>
<circle cx="433.1" cy="237.8" r="4.3" fill="#8b0000" stroke="#2a0000" stroke-width="1"/>
<circle cx="460.4" cy="237.2" r="4.3" fill="#8b0000" stroke="#2a0000" stroke-width="1"/>
<circle cx="487.7" cy="237.2" r="4.3" fill="#8b0000" stroke="#2a0000" stroke-width="1"/>
<circle cx="515.0" cy="225.4" r="4.3" fill="#8b0000" stroke="#2a0000" stroke-width="1"/>
<circle cx="542.3" cy="221.4" r="4.3" fill="#8b0000" stroke="#2a0000" stroke-width="1"/>
<circle cx="569.7" cy="214.2" r="4.3" fill="#8b0000" stroke="#2a0000" stroke-width="1"/>
<circle cx="597.0" cy="194.1" r="4.3" fill="#8b0000" stroke="#2a0000" stroke-width="1"/>
<circle cx="624.3" cy="195.3" r="4.3" fill="#8b0000" stroke="#2a0000" stroke-width="1"/>
<circle cx="651.6" cy="191.9" r="4.3" fill="#8b0000" stroke="#2a0000" stroke-width="1"/>
<circle cx="678.9" cy="184.1" r="4.3" fill="#8b0000" stroke="#2a0000" stroke-width="1"/>
<circle cx="706.2" cy="186.6" r="4.3" fill="#8b0000" stroke="#2a0000" stroke-width="1"/>
<path d="M209.4,349.4H220.0L214.7,358.2Z" fill="#ff8000" stroke="#1a0a00" stroke-width="1"/>
<path d="M236.7,349.4H247.3L242.0,358.2Z" fill="#ff8000" stroke="#1a0a00" stroke-width="1"/>
<path d="M264.0,350.4H274.6L269.3,359.2Z" fill="#ff8000" stroke="#1a0a00" stroke-width="1"/>
<path d="M291.3,351.6H301.9L296.6,360.4Z" fill="#ff8000" stroke="#1a0a00" stroke-width="1"/>
<path d="M318.6,349.4H329.2L323.9,358.2Z" fill="#ff8000" stroke="#1a0a00" stroke-width="1"/>
<path d="M345.9,347.9H356.5L351.2,356.7Z" fill="#ff8000" stroke="#1a0a00" stroke-width="1"/>
<path d="M373.2,309.4H383.8L378.5,318.2Z" fill="#ff8000" stroke="#1a0a00" stroke-width="1"/>
<path d="M400.5,252.3H411.1L405.8,261.1Z" fill="#ff8000" stroke="#1a0a00" stroke-width="1"/>
<path d="M427.8,243.3H438.4L433.1,252.1Z" fill="#ff8000" stroke="#1a0a00" stroke-width="1"/>
<path d="M455.1,243.9H465.7L460.4,252.7Z" fill="#ff8000" stroke="#1a0a00" stroke-width="1"/>
<path d="M482.4,243.6H493.0L487.7,252.4Z" fill="#ff8000" stroke="#1a0a00" stroke-width="1"/>
<path d="M509.7,222.8H520.3L515.0,231.6Z" fill="#ff8000" stroke="#1a0a00" stroke-width="1"/>
<path d="M537.0,236.8H547.6L542.3,245.6Z" fill="#ff8000" stroke="#1a0a00" stroke-width="1"/>
<path d="M564.4,217.5H575.0L569.7,226.3Z" fill="#ff8000" stroke="#1a0a00" stroke-width="1"/>
<path d="M591.7,229.7H602.3L597.0,238.5Z" fill="#ff8000" stroke="#1a0a00" stroke-width="1"/>
<path d="M619.0,206.7H629.6L624.3,215.5Z" fill="#ff8000" stroke="#1a0a00" stroke-width="1"/>
<path d="M646.3,194.0H656.9L651.6,202.8Z" fill="#ff8000" stroke="#1a0a00" stroke-width="1"/>
<path d="M673.6,192.4H684.2L678.9,201.2Z" fill="#ff8000" stroke="#1a0a00" stroke-width="1"/>
<path d="M700.9,179.1H711.5L706.2,187.9Z" fill="#ff8000" stroke="#1a0a00" stroke-width="1"/>
<path d="M721.4,182.5H732.0L726.7,191.3Z" fill="#ff8000" stroke="#1a0a00" stroke-width="1"/>
<rect x="153.8" y="159.0" width="606.8" height="217.2" fill="none" stroke="#000" stroke-width="3"/>
<rect x="549.5" y="271" width="184" height="62.5" fill="#fff" stroke="#444" stroke-width="1"/>
<line x1="561" y1="291.4" x2="599" y2="291.4" stroke="#a52a2a" stroke-width="1.5"/>
<circle cx="580" cy="291.4" r="4.3" fill="#8b0000" stroke="#2a0000" stroke-width="1"/>
<line x1="561" y1="313.8" x2="599" y2="313.8" stroke="#ffbf80" stroke-width="1.5"/>
<path d="M574.7,310.3H585.3L580,319.1Z" fill="#ff8000" stroke="#1a0a00" stroke-width="1"/>
<text x="609" y="298.3" font-size="16.5" textLength="88.5" lengthAdjust="spacingAndGlyphs" fill="#111">G-ZZ-L-HV2</text>
<text x="609.6" y="319.4" font-size="16.5" textLength="86" lengthAdjust="spacingAndGlyphs" fill="#111">F-ZZ-L-HV2</text>
<text x="226.8" y="216.7" font-size="22.5" textLength="26.4" lengthAdjust="spacingAndGlyphs" fill="#1a1a1a">(a)</text>
<text x="144.4" y="382.8" font-size="16.8" text-anchor="end" fill="#111">100</text>
<text x="144.4" y="351.8" font-size="16.8" text-anchor="end" fill="#111">200</text>
<text x="144.4" y="320.7" font-size="16.8" text-anchor="end" fill="#111">300</text>
<text x="144.4" y="289.7" font-size="16.8" text-anchor="end" fill="#111">400</text>
<text x="144.4" y="258.7" font-size="16.8" text-anchor="end" fill="#111">500</text>
<text x="144.4" y="227.6" font-size="16.8" text-anchor="end" fill="#111">600</text>
<text x="144.4" y="196.6" font-size="16.8" text-anchor="end" fill="#111">700</text>
<text x="144.4" y="165.6" font-size="16.8" text-anchor="end" fill="#111">800</text>
<text x="214.7" y="400.4" font-size="16" text-anchor="middle" fill="#111">0</text>
<text x="283.0" y="400.4" font-size="16" text-anchor="middle" fill="#111">2</text>
<text x="351.2" y="400.4" font-size="16" text-anchor="middle" fill="#111">4</text>
<text x="419.5" y="400.4" font-size="16" text-anchor="middle" fill="#111">6</text>
<text x="487.7" y="400.4" font-size="16" text-anchor="middle" fill="#111">8</text>
<text x="556.0" y="400.4" font-size="16" text-anchor="middle" fill="#111">10</text>
<text x="624.3" y="400.4" font-size="16" text-anchor="middle" fill="#111">12</text>
<text x="692.5" y="400.4" font-size="16" text-anchor="middle" fill="#111">14</text>
<text x="760.8" y="400.4" font-size="16" text-anchor="middle" fill="#111">16</text>
<text x="383.6" y="424" font-size="18.6" textLength="75" lengthAdjust="spacingAndGlyphs" fill="#111">Distance</text>
<text x="473.6" y="424" font-size="18.6" fill="#111">(</text>
<text x="485.2" y="424" font-size="18.6" textLength="33" lengthAdjust="spacingAndGlyphs" fill="#111">mm</text>
<text x="526.6" y="424" font-size="18.6" fill="#111">)</text>
<text transform="translate(101,382.7) rotate(-90)" font-size="19.4" textLength="156.5" lengthAdjust="spacingAndGlyphs" fill="#111">Vickers Hardness</text>
<text transform="translate(101,212.4) rotate(-90)" font-size="19.4" fill="#111">(</text>
<text transform="translate(101,200.4) rotate(-90)" font-size="19.4" textLength="37" lengthAdjust="spacingAndGlyphs" fill="#111">HV2</text>
<text transform="translate(101,155.2) rotate(-90)" font-size="19.4" fill="#111">)</text>
<rect x="337.6" y="634.4" width="201.69999999999993" height="562.8000000000001" fill="#fff"/>
<line x1="371.3" y1="634.4" x2="371.3" y2="1197.2" stroke="#cfcfcf" stroke-width="1.2"/>
<line x1="404.8" y1="634.4" x2="404.8" y2="1197.2" stroke="#cfcfcf" stroke-width="1.2"/>
<line x1="438.2" y1="634.4" x2="438.2" y2="1197.2" stroke="#cfcfcf" stroke-width="1.2"/>
<line x1="471.7" y1="634.4" x2="471.7" y2="1197.2" stroke="#cfcfcf" stroke-width="1.2"/>
<line x1="505.1" y1="634.4" x2="505.1" y2="1197.2" stroke="#cfcfcf" stroke-width="1.2"/>
<line x1="337.6" y1="719.8" x2="539.3" y2="719.8" stroke="#cfcfcf" stroke-width="1.2"/>
<line x1="337.6" y1="815.5" x2="539.3" y2="815.5" stroke="#cfcfcf" stroke-width="1.2"/>
<line x1="337.6" y1="911.2" x2="539.3" y2="911.2" stroke="#cfcfcf" stroke-width="1.2"/>
<line x1="337.6" y1="1006.9" x2="539.3" y2="1006.9" stroke="#cfcfcf" stroke-width="1.2"/>
<line x1="337.6" y1="1102.6" x2="539.3" y2="1102.6" stroke="#cfcfcf" stroke-width="1.2"/>
<line x1="371.3" y1="634.4" x2="371.3" y2="642.4" stroke="#333" stroke-width="1.3"/>
<line x1="404.8" y1="634.4" x2="404.8" y2="642.4" stroke="#333" stroke-width="1.3"/>
<line x1="438.2" y1="634.4" x2="438.2" y2="642.4" stroke="#333" stroke-width="1.3"/>
<line x1="471.7" y1="634.4" x2="471.7" y2="642.4" stroke="#333" stroke-width="1.3"/>
<line x1="505.1" y1="634.4" x2="505.1" y2="642.4" stroke="#333" stroke-width="1.3"/>
<line x1="337.6" y1="719.8" x2="345.6" y2="719.8" stroke="#333" stroke-width="1.3"/>
<line x1="337.6" y1="815.5" x2="345.6" y2="815.5" stroke="#333" stroke-width="1.3"/>
<line x1="337.6" y1="911.2" x2="345.6" y2="911.2" stroke="#333" stroke-width="1.3"/>
<line x1="337.6" y1="1006.9" x2="345.6" y2="1006.9" stroke="#333" stroke-width="1.3"/>
<line x1="337.6" y1="1102.6" x2="345.6" y2="1102.6" stroke="#333" stroke-width="1.3"/>
<polyline points="468.7,719.8 467.7,758.1 462.7,786.8 463.7,834.6 472.4,872.9 472.4,911.2 467.4,949.5 474.0,987.8 465.3,1026.0 476.7,1064.3" fill="none" stroke="#ad3030" stroke-width="1.3"/>
<polyline points="465.0,719.8 460.7,758.1 462.7,796.4 461.7,834.6 462.7,872.9 465.0,911.2 459.0,949.5 465.7,987.8 478.1,1026.0 467.7,1064.3 465.0,1093.0" fill="none" stroke="#ff9030" stroke-width="1.3"/>
<circle cx="468.7" cy="719.8" r="4" fill="#8b0000" stroke="#2a0000" stroke-width="1"/>
<circle cx="467.7" cy="758.1" r="4" fill="#8b0000" stroke="#2a0000" stroke-width="1"/>
<circle cx="462.7" cy="786.8" r="4" fill="#8b0000" stroke="#2a0000" stroke-width="1"/>
<circle cx="463.7" cy="834.6" r="4" fill="#8b0000" stroke="#2a0000" stroke-width="1"/>
<circle cx="472.4" cy="872.9" r="4" fill="#8b0000" stroke="#2a0000" stroke-width="1"/>
<circle cx="472.4" cy="911.2" r="4" fill="#8b0000" stroke="#2a0000" stroke-width="1"/>
<circle cx="467.4" cy="949.5" r="4" fill="#8b0000" stroke="#2a0000" stroke-width="1"/>
<circle cx="474.0" cy="987.8" r="4" fill="#8b0000" stroke="#2a0000" stroke-width="1"/>
<circle cx="465.3" cy="1026.0" r="4" fill="#8b0000" stroke="#2a0000" stroke-width="1"/>
<circle cx="476.7" cy="1064.3" r="4" fill="#8b0000" stroke="#2a0000" stroke-width="1"/>
<path d="M468.5,715.0V724.6L460.2,719.8Z" fill="#ff8000" stroke="#1a0a00" stroke-width="1"/>
<path d="M464.2,753.3V762.9L455.9,758.1Z" fill="#ff8000" stroke="#1a0a00" stroke-width="1"/>
<path d="M466.2,791.6V801.2L457.9,796.4Z" fill="#ff8000" stroke="#1a0a00" stroke-width="1"/>
<path d="M465.2,829.8V839.4L456.9,834.6Z" fill="#ff8000" stroke="#1a0a00" stroke-width="1"/>
<path d="M466.2,868.1V877.7L457.9,872.9Z" fill="#ff8000" stroke="#1a0a00" stroke-width="1"/>
<path d="M468.5,906.4V916.0L460.2,911.2Z" fill="#ff8000" stroke="#1a0a00" stroke-width="1"/>
<path d="M462.5,944.7V954.3L454.2,949.5Z" fill="#ff8000" stroke="#1a0a00" stroke-width="1"/>
<path d="M469.2,983.0V992.6L460.9,987.8Z" fill="#ff8000" stroke="#1a0a00" stroke-width="1"/>
<path d="M481.6,1021.2V1030.8L473.3,1026.0Z" fill="#ff8000" stroke="#1a0a00" stroke-width="1"/>
<path d="M471.2,1059.5V1069.1L462.9,1064.3Z" fill="#ff8000" stroke="#1a0a00" stroke-width="1"/>
<path d="M468.5,1088.2V1097.8L460.2,1093.0Z" fill="#ff8000" stroke="#1a0a00" stroke-width="1"/>
<rect x="337.6" y="634.4" width="201.69999999999993" height="562.8000000000001" fill="none" stroke="#000" stroke-width="2.6"/>
<rect x="376.5" y="1002.5" width="58.8" height="173.6" fill="#fff" stroke="#444" stroke-width="1"/>
<line x1="416.1" y1="1012" x2="416.1" y2="1048" stroke="#c87070" stroke-width="1.2"/>
<circle cx="416.1" cy="1030" r="4" fill="#8b0000" stroke="#2a0000" stroke-width="1"/>
<line x1="396.3" y1="1012" x2="396.3" y2="1048" stroke="#ff9a3c" stroke-width="1.2"/>
<path d="M399.6,1025.2V1034.8L391.3,1030Z" fill="#ff8000" stroke="#1a0a00" stroke-width="1"/>
<text transform="translate(409.5,1058.7) rotate(90)" font-size="16" textLength="90" lengthAdjust="spacingAndGlyphs" fill="#111">G-ZZ-W-HV2</text>
<text transform="translate(390.5,1061.2) rotate(90)" font-size="16" textLength="87" lengthAdjust="spacingAndGlyphs" fill="#111">F-ZZ-W-HV2</text>
<text x="374.9" y="691.3" font-size="21.5" textLength="26.6" lengthAdjust="spacingAndGlyphs" fill="#1a1a1a">(b)</text>
<text transform="translate(331.8,599.1) rotate(90)" font-size="16" fill="#111">200</text>
<text transform="translate(365.2,599.1) rotate(90)" font-size="16" fill="#111">300</text>
<text transform="translate(398.7,599.1) rotate(90)" font-size="16" fill="#111">400</text>
<text transform="translate(432.1,599.1) rotate(90)" font-size="16" fill="#111">500</text>
<text transform="translate(465.6,599.1) rotate(90)" font-size="16" fill="#111">600</text>
<text transform="translate(499.0,599.1) rotate(90)" font-size="16" fill="#111">700</text>
<text transform="translate(532.5,599.1) rotate(90)" font-size="16" fill="#111">800</text>
<text transform="translate(315.3,719.8) rotate(90)" font-size="15" text-anchor="middle" fill="#111">0</text>
<text transform="translate(315.3,815.5) rotate(90)" font-size="15" text-anchor="middle" fill="#111">2</text>
<text transform="translate(315.3,911.2) rotate(90)" font-size="15" text-anchor="middle" fill="#111">4</text>
<text transform="translate(315.3,1006.9) rotate(90)" font-size="15" text-anchor="middle" fill="#111">6</text>
<text transform="translate(315.3,1102.6) rotate(90)" font-size="15" text-anchor="middle" fill="#111">8</text>
<text transform="translate(315.3,1198.3) rotate(90)" font-size="15" text-anchor="middle" fill="#111">10</text>
<text x="330.2" y="586" font-size="17.3" textLength="145" lengthAdjust="spacingAndGlyphs" fill="#111">Vickers Hardness</text>
<text x="486.8" y="586" font-size="17.3" fill="#111">(</text>
<text x="498.2" y="586" font-size="17.3" textLength="35" lengthAdjust="spacingAndGlyphs" fill="#111">HV2</text>
<text x="541.3" y="586" font-size="17.3" fill="#111">)</text>
<text transform="translate(292.8,842.8) rotate(90)" font-size="18.6" textLength="71.5" lengthAdjust="spacingAndGlyphs" fill="#111">Distance</text>
<text transform="translate(292.8,924.6) rotate(90)" font-size="18.6" fill="#111">(</text>
<text transform="translate(292.8,938.5) rotate(90)" font-size="18.6" textLength="30" lengthAdjust="spacingAndGlyphs" fill="#111">mm</text>
<text transform="translate(292.8,972.5) rotate(90)" font-size="18.6" fill="#111">)</text>
<text x="190.5" y="57.1" font-size="28" textLength="63.0" lengthAdjust="spacingAndGlyphs" fill="#111">S45C</text>
<line x1="414.3" y1="51.4" x2="462" y2="51.4" stroke="#000" stroke-width="2"/>
<path d="M471,51.4L460,46.4L460,56.4Z" fill="#000"/>
<text x="482.8" y="58.2" font-size="20.5" textLength="74.80000000000001" lengthAdjust="spacingAndGlyphs" fill="#111">building</text>
<text x="565" y="58.2" font-size="18.5" textLength="72.60000000000002" lengthAdjust="spacingAndGlyphs" fill="#111">direction</text>
<text x="673.5" y="59.7" font-size="23.3" textLength="20.0" lengthAdjust="spacingAndGlyphs" fill="#111">G</text>
<text x="651.5" y="136.1" font-size="20.4" textLength="47.0" lengthAdjust="spacingAndGlyphs" fill="#111">2mm</text>
<line x1="629.2" y1="146.5" x2="720.2" y2="146.5" stroke="#000" stroke-width="3"/>
<text x="197.0" y="446.7" font-size="27.6" textLength="62.5" lengthAdjust="spacingAndGlyphs" fill="#111">S45C</text>
<line x1="400" y1="499.8" x2="447.7" y2="499.8" stroke="#000" stroke-width="2"/>
<path d="M456.7,499.8L445.7,494.8L445.7,504.8Z" fill="#000"/>
<text x="468" y="508.3" font-size="20.5" textLength="74" lengthAdjust="spacingAndGlyphs" fill="#111">building</text>
<text x="549" y="508.3" font-size="18.5" textLength="74" lengthAdjust="spacingAndGlyphs" fill="#111">direction</text>
<text x="695.3" y="449.4" font-size="25.7" textLength="12.200000000000045" lengthAdjust="spacingAndGlyphs" fill="#111">F</text>
<text x="661.2" y="502.8" font-size="19.3" textLength="47.19999999999993" lengthAdjust="spacingAndGlyphs" fill="#111">2mm</text>
<line x1="639.5" y1="512.8" x2="730.7" y2="512.8" stroke="#000" stroke-width="3"/>
<text x="68.8" y="735" font-size="23" textLength="12.0" lengthAdjust="spacingAndGlyphs" fill="#111">F</text>
<line x1="87.8" y1="746.8" x2="132.2" y2="746.8" stroke="#000" stroke-width="2"/>
<path d="M141.2,746.8L130.2,741.8L130.2,751.8Z" fill="#000"/>
<text x="150.4" y="753.5" font-size="19.5" textLength="70.6" lengthAdjust="spacingAndGlyphs" fill="#111">building</text>
<text x="226.2" y="753.5" font-size="17.5" textLength="67.80000000000001" lengthAdjust="spacingAndGlyphs" fill="#111">direction</text>
<text x="77.5" y="1067.1" font-size="19.3" textLength="44.2" lengthAdjust="spacingAndGlyphs" fill="#111">2mm</text>
<line x1="57.3" y1="1076.4" x2="141.2" y2="1076.4" stroke="#000" stroke-width="3"/>
<text x="772.8" y="732.8" font-size="21.3" textLength="17.700000000000045" lengthAdjust="spacingAndGlyphs" fill="#111">G</text>
<line x1="548" y1="738.2" x2="591.5" y2="738.2" stroke="#000" stroke-width="2"/>
<path d="M600.5,738.2L589.5,733.2L589.5,743.2Z" fill="#000"/>
<text x="611.6" y="744.6" font-size="19.5" textLength="69.39999999999998" lengthAdjust="spacingAndGlyphs" fill="#111">building</text>
<text x="687" y="744.6" font-size="17.5" textLength="68" lengthAdjust="spacingAndGlyphs" fill="#111">direction</text>
<text x="733" y="1047.6" font-size="18.7" textLength="44.10000000000002" lengthAdjust="spacingAndGlyphs" fill="#111">2mm</text>
<line x1="713" y1="1057.3" x2="797" y2="1057.3" stroke="#000" stroke-width="3"/>
</svg>
</body></html>
